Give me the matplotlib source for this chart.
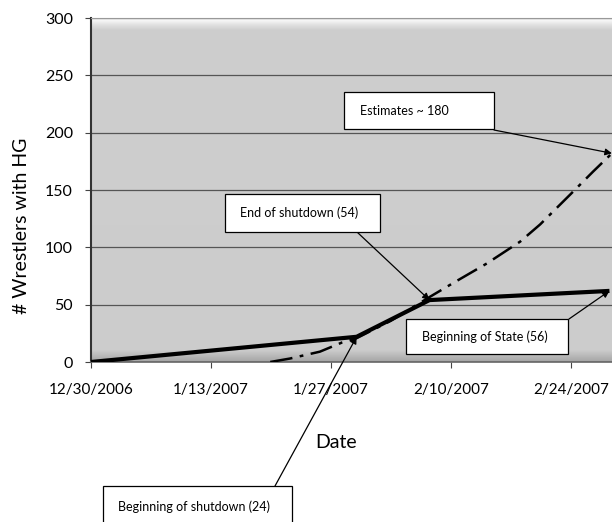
import numpy as np
import pandas as pd
import matplotlib
matplotlib.use("Agg")
import matplotlib.pyplot as plt
import matplotlib.patches as patches

plt.rcParams['font.family'] = ['Lato', 'DejaVu Sans']

# data
actual_dates = ['2006-12-30', '2007-01-30', '2007-02-07 12:00', '2007-02-28 12:00']
actual_counts = [0, 22, 54, 62]

estimate_dates = ['2007-01-19 22:00', '2007-01-22 05:00', '2007-01-25 17:00', '2007-01-28 07:00',
                  '2007-01-29 19:00', '2007-02-03', '2007-02-07 14:00', '2007-02-10 07:00',
                  '2007-02-14 05:00', '2007-02-18 02:00', '2007-02-20 10:00', '2007-02-23 22:00',
                  '2007-02-26 14:00', '2007-02-28 19:00']
estimate_counts = [0, 3, 9, 17, 20, 36, 57, 69, 86, 105, 120, 146, 166, 182]

tick_dates = ['2006-12-30', '2007-01-13', '2007-01-27', '2007-02-10', '2007-02-24']
tick_labels = ['12/30/2006', '1/13/2007', '1/27/2007', '2/10/2007', '2/24/2007']
y_ticks = [0, 50, 100, 150, 200, 250, 300]

actual_x = pd.to_datetime(actual_dates, format='mixed')
estimate_x = pd.to_datetime(estimate_dates, format='mixed')
ticks_x = pd.to_datetime(tick_dates)

W, H = 612, 522
fig = plt.figure(figsize=(W / 100, H / 100), dpi=100)


def fx(px):
    return px / W


def fy(py):
    return 1 - py / H


# plot area runs past the right edge, like the cropped original
ax = fig.add_axes([fx(91), fy(362), 557 / W, 344 / H])
ax.set_xlim(pd.Timestamp('2006-12-30'), pd.Timestamp('2007-03-05'))
ax.set_ylim(0, 300)
ax.set_facecolor('#cdcdcd')

# white strip under the top edge, darker band along the bottom (1px rows, axes coords)
n = 344
from_top = (np.arange(n) + 0.5) / n
shade = np.interp(from_top, [0, 0.006, 0.02, 0.035, 0.965, 1], [1.0, 0.97, 0.88, 0.805, 0.80, 0.64])
for i in range(n):
    ax.add_patch(patches.Rectangle((0, 1 - (i + 1) / n), 1, 1 / n + 0.0005, transform=ax.transAxes,
                                   facecolor=str(shade[i]), edgecolor='none', zorder=0))

ax.set_axisbelow(True)
ax.yaxis.grid(True, color='#555555', linewidth=0.9)

ax.plot(estimate_x, estimate_counts, color='black', linewidth=1.8,
        linestyle=(0, (9, 3, 1.5, 3)), zorder=3)
ax.plot(actual_x, actual_counts, color='black', linewidth=3.0, solid_capstyle='butt', zorder=4)

ax.set_xticks(ticks_x)
ax.set_xticklabels(tick_labels)
ax.set_yticks(y_ticks)
ax.tick_params(axis='x', labelsize=11, length=4, width=0.8, pad=11, color='#444444')
ax.tick_params(axis='y', labelsize=11.5, length=4, width=0.8, pad=9, color='#444444')

ax.spines['left'].set_linewidth(1.5)
ax.spines['left'].set_color('#333333')
ax.spines['bottom'].set_linewidth(1.2)
ax.spines['bottom'].set_color('#666666')
ax.spines['top'].set_color('#999999')
ax.spines['top'].set_linewidth(0.8)
ax.spines['right'].set_visible(False)

fig.text(fx(22), fy(226), '# Wrestlers with HG', rotation=90, ha='center', va='center', fontsize=14)
fig.text(fx(336), fy(442), 'Date', ha='center', va='center', fontsize=14)

arrow = dict(arrowstyle='-|>', color='black', lw=0.9, mutation_scale=10, shrinkA=0, shrinkB=0)


def callout(text, box, text_at, start, tip):
    x0, y0, x1, y1 = box
    fig.patches.append(patches.Rectangle((fx(x0), fy(y1)), (x1 - x0) / W, (y1 - y0) / H,
                                         transform=fig.transFigure, facecolor='white',
                                         edgecolor='black', linewidth=0.9, zorder=5))
    fig.text(fx(text_at[0]), fy(text_at[1]), text, ha='left', va='center', fontsize=9, zorder=6)
    ax.annotate('', xy=tip, xycoords='data', xytext=(fx(start[0]), fy(start[1])),
                textcoords='figure fraction', arrowprops=arrow, annotation_clip=False, zorder=6)


callout('Estimates ~ 180', (344, 92, 494, 129), (360, 111), (494, 130),
        (estimate_x[-1], estimate_counts[-1]))
callout('End of shutdown (54)', (225, 194, 380, 232), (240, 213), (357, 232),
        (actual_x[2], actual_counts[2]))
callout('Beginning of State (56)', (406, 319, 568, 354), (422, 337), (569, 319),
        (actual_x[3], actual_counts[3]))
callout('Beginning of shutdown (24)', (103, 486, 292, 530), (118, 507), (275, 486),
        (actual_x[1], actual_counts[1]))

fig.savefig('out.png', dpi=100)
